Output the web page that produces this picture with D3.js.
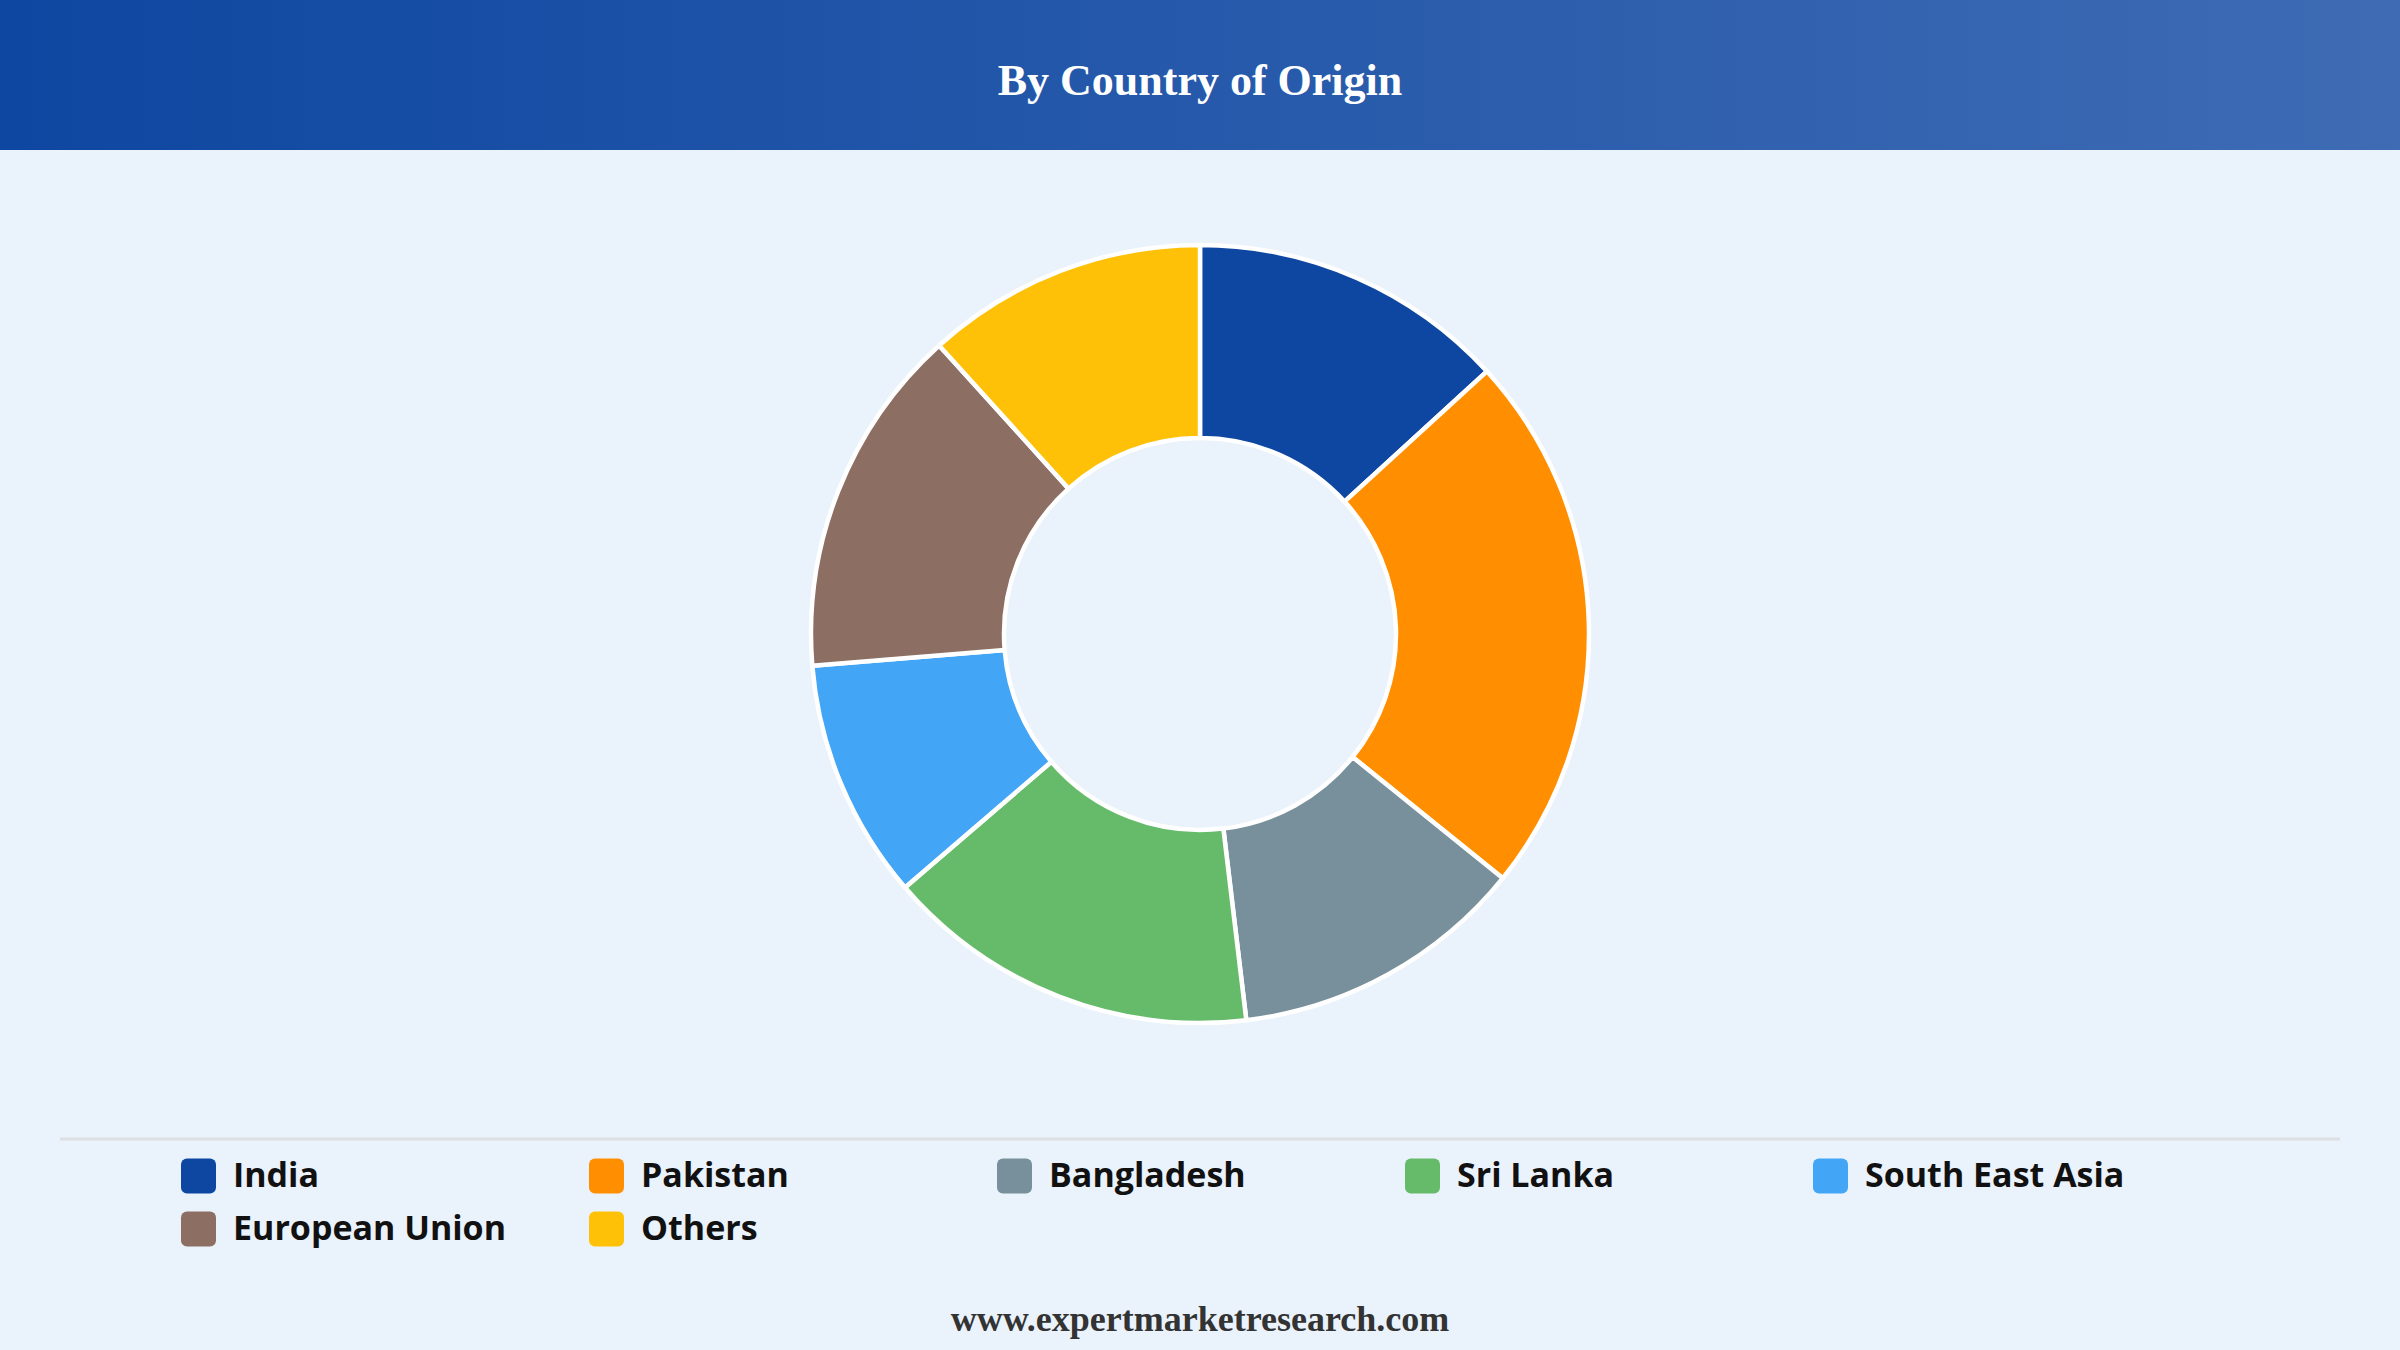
<!DOCTYPE html>
<html>
<head>
<meta charset="utf-8">
<script src="https://cdn.jsdelivr.net/npm/d3@7"></script>
<style>
html,body{margin:0;padding:0;background:#EAF2FB;}
svg{display:block;}
</style>
</head>
<body>
<svg id="chart" width="2400" height="1350"></svg>
<script>
const title = "By Country of Origin";
const footer = "www.expertmarketresearch.com";
const categories = ["India","Pakistan","Bangladesh","Sri Lanka","South East Asia","European Union","Others"];
const values = [13.2, 22.6, 12.3, 15.6, 10.0, 14.6, 11.7];
const colors = ["#0D47A1","#FF8F00","#78909C","#66BB6A","#42A5F5","#8D6E63","#FFC107"];

const W = 2400, H = 1350;
const svg = d3.select("#chart");

// background
svg.append("rect").attr("width", W).attr("height", H).attr("fill", "#EAF2FB");

// header gradient
const defs = svg.append("defs");
const grad = defs.append("linearGradient").attr("id","hdr").attr("x1","0").attr("x2","1").attr("y1","0").attr("y2","0");
grad.append("stop").attr("offset","0").attr("stop-color","#0E47A1");
grad.append("stop").attr("offset","1").attr("stop-color","#3E6BB4");
svg.append("rect").attr("width", W).attr("height", 150).attr("fill","url(#hdr)");
svg.append("text").attr("x", W/2).attr("y", 85)
  .attr("text-anchor","middle").attr("dominant-baseline","middle")
  .attr("font-family","'Liberation Serif','Times New Roman',serif")
  .attr("font-weight","bold").attr("font-size",44).attr("fill","#fff")
  .text(title);

// donut
const cx = 1200, cy = 634, outerR = 389, innerR = 196;
const pie = d3.pie().sort(null).value(d => d.v);
const data = categories.map((c,i) => ({c, v: values[i], col: colors[i]}));
const arc = d3.arc().innerRadius(innerR).outerRadius(outerR);
const g = svg.append("g").attr("transform", `translate(${cx},${cy})`);
g.selectAll("path").data(pie(data)).join("path")
  .attr("d", arc)
  .attr("fill", d => d.data.col)
  .attr("stroke", "#fff").attr("stroke-width", 4.5).attr("stroke-linejoin","round");

// separator
svg.append("line").attr("x1", 60).attr("x2", 2340).attr("y1", 1139).attr("y2", 1139)
  .attr("stroke", "#DCDFE3").attr("stroke-width", 3);

// legend
const colW = 408, x0 = 181, rowY = [1176, 1229], perRow = 5, sw = 35;
const lg = svg.append("g");
const items = lg.selectAll("g").data(data).join("g")
  .attr("transform", (d,i) => `translate(${x0 + (i % perRow) * colW},${rowY[Math.floor(i / perRow)]})`);
items.append("rect").attr("x",0).attr("y",-sw/2).attr("width",sw).attr("height",sw)
  .attr("rx",6).attr("ry",6).attr("fill", d => d.col);
items.append("text").attr("x", sw + 17).attr("y", 2)
  .attr("dominant-baseline","middle")
  .attr("font-family","'Open Sans','Noto Sans',sans-serif")
  .attr("font-weight","bold").attr("font-size",34).attr("fill","#111")
  .text(d => d.c);

// footer
svg.append("text").attr("x", W/2).attr("y", 1323)
  .attr("text-anchor","middle").attr("dominant-baseline","middle")
  .attr("font-family","'Liberation Serif','Times New Roman',serif")
  .attr("font-weight","bold").attr("font-size",36).attr("fill","#333")
  .text(footer);
</script>
</body>
</html>
